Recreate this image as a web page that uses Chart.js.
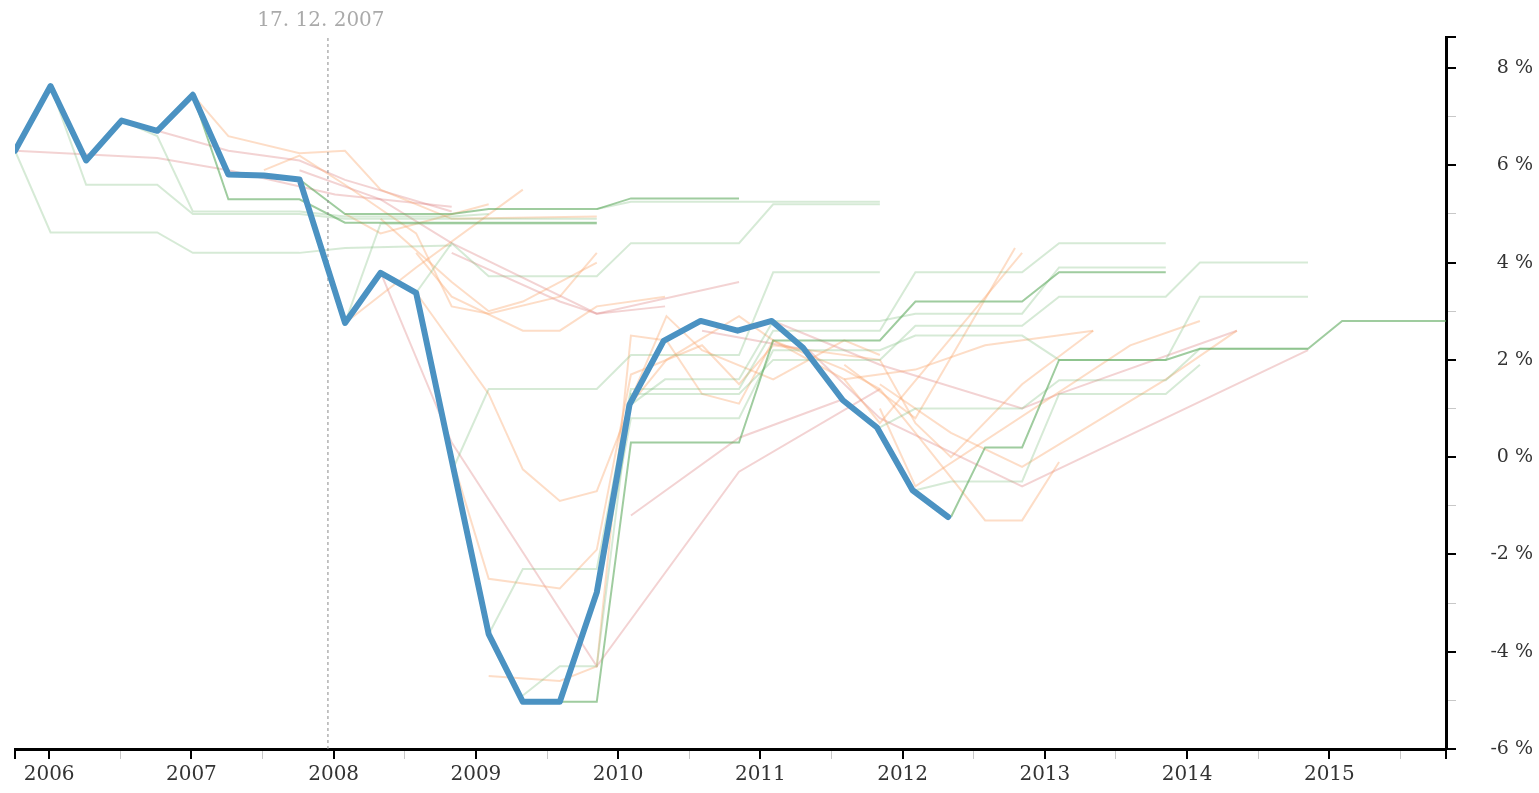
<!DOCTYPE html>
<html>
<head>
<meta charset="utf-8">
<title>HDP – skutečnost a prognózy</title>
<script src="https://cdn.jsdelivr.net/npm/chart.js@4.4.0/dist/chart.umd.min.js"></script>
<style>
  html, body { margin: 0; padding: 0; background: #fff; }
  #wrap { width: 1539px; height: 793px; }
</style>
</head>
<body>
<div id="wrap"><canvas id="gdpChart" width="1539" height="793"></canvas></div>
<script>
// axis ranges (years as decimals, growth in %)
const xMin = 2005.76;
const xMax = 2015.82;
const yMin = -6;
const yMax = 8.63;

const yearTicks = [2006, 2007, 2008, 2009, 2010, 2011, 2012, 2013, 2014, 2015];
const valueTicks = [-6, -4, -2, 0, 2, 4, 6, 8];

// date of the marked forecast
const markerDate = 2007.96;
const markerLabel = '17. 12. 2007';

// actual growth (thick blue line)
const actualYears = [2005.76, 2006.01, 2006.26, 2006.51, 2006.76, 2007.01, 2007.26, 2007.51, 2007.76,
    2008.08, 2008.33, 2008.58, 2009.09, 2009.33, 2009.59, 2009.85, 2010.08, 2010.32, 2010.58,
    2010.84, 2011.08, 2011.30, 2011.58, 2011.82, 2012.07, 2012.32];
const actualGrowth = [6.3, 7.63, 6.1, 6.92, 6.71, 7.45, 5.81, 5.79, 5.71,
    2.76, 3.79, 3.38, -3.64, -5.03, -5.03, -2.78, 1.08, 2.39, 2.8,
    2.6, 2.8, 2.25, 1.17, 0.61, -0.68, -1.23];

// forecasts, each one a list of [year, growth]
const greenStrongForecasts = [
    [[2007.76, 5.71], [2008.08, 5.0], [2008.83, 5.0], [2009.09, 5.1], [2009.85, 5.1], [2010.09, 5.32], [2010.85, 5.32]],
    [[2007.01, 7.45], [2007.26, 5.3], [2007.76, 5.3], [2008.08, 4.82], [2009.85, 4.82]],
    [[2009.33, -5.03], [2009.85, -5.03], [2010.09, 0.3], [2010.85, 0.3], [2011.09, 2.4], [2011.84, 2.4], [2012.09, 3.2], [2012.84, 3.2], [2013.10, 3.8], [2013.85, 3.8]],
    [[2012.34, -1.23], [2012.58, 0.2], [2012.84, 0.2], [2013.10, 2.0], [2013.85, 2.0], [2014.09, 2.23], [2014.85, 2.23], [2015.09, 2.8], [2015.82, 2.8]]
];

const greenForecasts = [
    [[2005.76, 6.3], [2006.01, 4.62], [2006.76, 4.62], [2007.01, 4.2], [2007.76, 4.2], [2008.08, 4.3], [2008.83, 4.35]],
    [[2006.01, 7.63], [2006.26, 5.6], [2006.76, 5.6], [2007.01, 5.0], [2007.76, 5.0], [2008.08, 4.9], [2009.85, 4.9]],
    [[2006.51, 6.92], [2006.76, 6.6], [2007.01, 5.05], [2007.76, 5.05], [2008.08, 4.95], [2008.83, 4.95], [2009.09, 5.0]],
    [[2008.08, 2.76], [2008.33, 4.8], [2009.85, 4.8]],
    [[2008.58, 3.38], [2008.83, 4.4], [2009.09, 3.72], [2009.85, 3.72], [2010.09, 4.4], [2010.85, 4.4], [2011.09, 5.2], [2011.84, 5.2]],
    [[2009.85, 5.1], [2010.09, 5.25], [2011.84, 5.25]],
    [[2008.83, -0.3], [2009.09, 1.4], [2009.85, 1.4], [2010.09, 2.1], [2010.85, 2.1], [2011.09, 3.8], [2011.84, 3.8]],
    [[2009.09, -3.64], [2009.33, -2.3], [2009.85, -2.3], [2010.09, 1.4], [2010.85, 1.4], [2011.09, 2.6], [2011.84, 2.6], [2012.09, 3.8], [2012.84, 3.8], [2013.10, 4.4], [2013.85, 4.4]],
    [[2009.33, -4.9], [2009.59, -4.3], [2009.85, -4.3], [2010.09, 1.3], [2010.85, 1.3], [2011.09, 2.0], [2011.84, 2.0], [2012.09, 2.7], [2012.84, 2.7], [2013.10, 3.3], [2013.85, 3.3], [2014.09, 4.0], [2014.85, 4.0]],
    [[2009.85, -2.9], [2010.09, 0.8], [2010.85, 0.8], [2011.09, 2.2], [2011.84, 2.2], [2012.09, 2.5], [2012.84, 2.5], [2013.10, 2.0], [2013.85, 2.0], [2014.09, 3.3], [2014.85, 3.3]],
    [[2010.09, 1.08], [2010.33, 1.6], [2010.85, 1.6], [2011.09, 2.8], [2011.84, 2.8], [2012.09, 2.95], [2012.84, 2.95], [2013.10, 3.9], [2013.85, 3.9]],
    [[2011.84, 0.61], [2012.09, 1.0], [2012.84, 1.0], [2013.10, 1.58], [2013.85, 1.58], [2014.09, 2.23], [2014.85, 2.23]],
    [[2012.09, -0.68], [2012.34, -0.5], [2012.84, -0.5], [2013.10, 1.3], [2013.85, 1.3], [2014.09, 1.9]]
];

const orangeForecasts = [
    [[2007.01, 7.45], [2007.26, 6.6], [2007.76, 6.25], [2008.08, 6.3], [2008.33, 5.5], [2008.83, 4.9], [2009.85, 4.95]],
    [[2007.51, 5.9], [2007.76, 6.2], [2008.08, 5.6], [2008.58, 4.6], [2008.83, 3.1], [2009.09, 2.95], [2009.59, 3.3], [2009.85, 4.2]],
    [[2008.08, 2.76], [2008.58, 3.9], [2009.33, 5.5]],
    [[2008.08, 5.0], [2008.33, 4.6], [2009.09, 5.2]],
    [[2008.33, 4.9], [2008.83, 3.6], [2009.09, 3.0], [2009.33, 3.2], [2009.85, 4.0]],
    [[2008.58, 4.2], [2008.83, 3.3], [2009.33, 2.6], [2009.59, 2.6], [2009.85, 3.1], [2010.33, 3.3]],
    [[2008.58, 3.38], [2009.09, 1.3], [2009.33, -0.25], [2009.59, -0.9], [2009.85, -0.7], [2010.09, 1.1], [2010.34, 2.0], [2010.85, 2.9], [2011.09, 2.4], [2011.59, 1.6], [2011.84, 0.7], [2012.84, 4.2]],
    [[2008.83, 0.0], [2009.09, -2.5], [2009.59, -2.7], [2009.85, -1.9], [2010.09, 1.7], [2010.59, 2.3], [2010.85, 1.5], [2011.09, 2.3], [2011.84, 2.0], [2012.09, 0.7], [2012.34, 0.0], [2012.84, 1.5], [2013.34, 2.6]],
    [[2009.09, -4.5], [2009.59, -4.6], [2009.85, -4.3], [2010.09, 2.5], [2010.34, 2.4], [2010.59, 1.3], [2010.85, 1.1], [2011.09, 2.4], [2011.59, 1.8], [2011.84, 1.4], [2012.09, 0.5], [2012.58, -1.3], [2012.84, -1.3], [2013.10, -0.1]],
    [[2011.84, 1.0], [2012.09, -0.6], [2013.60, 2.3], [2014.09, 2.8]],
    [[2011.84, 1.5], [2012.34, 0.5], [2012.84, -0.2], [2013.85, 1.6], [2014.35, 2.6]],
    [[2011.59, 1.6], [2012.09, 1.8], [2012.58, 2.3], [2013.34, 2.6]],
    [[2011.59, 1.9], [2012.09, 0.8], [2012.79, 4.3]],
    [[2010.09, 1.2], [2010.34, 2.9], [2010.59, 2.2], [2011.09, 1.6], [2011.59, 2.4], [2011.84, 2.1]]
];

const redForecasts = [
    [[2005.76, 6.3], [2006.76, 6.15], [2007.26, 5.9], [2008.01, 5.4], [2008.83, 5.15]],
    [[2006.76, 6.71], [2007.26, 6.3], [2007.76, 6.1], [2008.08, 5.7], [2008.83, 5.05]],
    [[2007.76, 5.9], [2008.33, 5.3], [2008.83, 4.4], [2009.85, 2.95], [2010.85, 3.6]],
    [[2008.83, 4.2], [2009.59, 3.2], [2009.85, 2.95], [2010.33, 3.1]],
    [[2008.33, 3.8], [2008.83, 0.3], [2009.85, -4.3], [2010.85, -0.3], [2011.84, 1.4]],
    [[2010.59, 2.6], [2011.34, 2.2], [2011.84, 0.8], [2012.84, -0.6], [2014.85, 2.2]],
    [[2011.09, 2.8], [2011.84, 1.9], [2012.84, 1.0], [2013.10, 1.3], [2014.35, 2.6]],
    [[2010.09, -1.2], [2010.85, 0.4], [2011.59, 1.2]]
];

const fontFamily = '"DejaVu Serif", serif';

const toPoints = line => line.map(p => ({ x: p[0], y: p[1] }));

function forecastSet(line, color) {
    return {
        data: toPoints(line),
        borderColor: color,
        borderWidth: 2,
        pointRadius: 0,
        tension: 0
    };
}

const datasets = [];

// actual values on top
datasets.push({
    data: actualYears.map((x, i) => ({ x: x, y: actualGrowth[i] })),
    borderColor: '#4b92c2',
    borderWidth: 6,
    borderJoinStyle: 'round',
    borderCapStyle: 'round',
    pointRadius: 0,
    tension: 0
});

// dashed marker line
datasets.push({
    data: [{ x: markerDate, y: yMin }, { x: markerDate, y: yMax }],
    borderColor: '#8a8a8a',
    borderWidth: 1,
    borderDash: [3, 3],
    pointRadius: 0
});

greenStrongForecasts.forEach(l => datasets.push(forecastSet(l, 'rgba(95,170,95,0.6)')));
greenForecasts.forEach(l => datasets.push(forecastSet(l, 'rgba(120,185,120,0.3)')));
orangeForecasts.forEach(l => datasets.push(forecastSet(l, 'rgba(250,160,100,0.36)')));
redForecasts.forEach(l => datasets.push(forecastSet(l, 'rgba(220,120,120,0.33)')));

// label above the dashed line
const markerLabelPlugin = {
    id: 'markerLabel',
    afterDraw(chart) {
        const ctx = chart.ctx;
        const x = chart.scales.x.getPixelForValue(markerDate);
        ctx.save();
        ctx.font = '20px ' + fontFamily;
        ctx.fillStyle = '#aaaaaa';
        ctx.textAlign = 'center';
        ctx.textBaseline = 'middle';
        ctx.fillText(markerLabel, x - 7, 21);
        ctx.restore();
    }
};

const isMajorX = v => yearTicks.includes(v) || v === xMin || v === xMax;
const isMajorY = v => valueTicks.includes(v) || v === yMax;

new Chart(document.getElementById('gdpChart'), {
    type: 'line',
    data: { datasets: datasets },
    plugins: [markerLabelPlugin],
    options: {
        responsive: false,
        animation: false,
        devicePixelRatio: 1,
        layout: { padding: { top: 36, left: 15, right: 6, bottom: 2 } },
        plugins: {
            legend: { display: false },
            tooltip: { enabled: false }
        },
        scales: {
            x: {
                type: 'linear',
                min: xMin,
                max: xMax,
                afterBuildTicks(scale) {
                    const t = [xMin];
                    yearTicks.forEach(y => { t.push(y); t.push(y + 0.5); });
                    t.push(xMax);
                    scale.ticks = t.map(v => ({ value: v }));
                },
                grid: {
                    drawOnChartArea: false,
                    drawTicks: true,
                    tickLength: 10,
                    color: ctx => isMajorX(ctx.tick.value) ? '#000' : '#c8c8c8',
                    lineWidth: ctx => isMajorX(ctx.tick.value) ? 2 : 1
                },
                border: { display: true, color: '#000', width: 3 },
                ticks: {
                    autoSkip: false,
                    maxRotation: 0,
                    padding: 4,
                    color: '#333',
                    font: { family: fontFamily, size: 20 },
                    callback: v => yearTicks.includes(v) ? String(v) : ''
                }
            },
            y: {
                type: 'linear',
                position: 'right',
                min: yMin,
                max: yMax,
                afterBuildTicks(scale) {
                    const t = [];
                    for (let v = yMin; v <= 8; v++) t.push(v);
                    t.push(yMax);
                    scale.ticks = t.map(v => ({ value: v }));
                },
                afterFit(scale) { scale.width = 87; },
                grid: {
                    drawOnChartArea: false,
                    drawTicks: true,
                    tickLength: 10,
                    color: ctx => isMajorY(ctx.tick.value) ? '#000' : '#c8c8c8',
                    lineWidth: ctx => isMajorY(ctx.tick.value) ? 2 : 1
                },
                border: { display: true, color: '#000', width: 3 },
                ticks: {
                    autoSkip: false,
                    crossAlign: 'far',
                    padding: 26,
                    color: '#333',
                    font: { family: fontFamily, size: 19 },
                    callback: v => valueTicks.includes(v) ? v + ' %' : ''
                }
            }
        }
    }
});
</script>
</body>
</html>
